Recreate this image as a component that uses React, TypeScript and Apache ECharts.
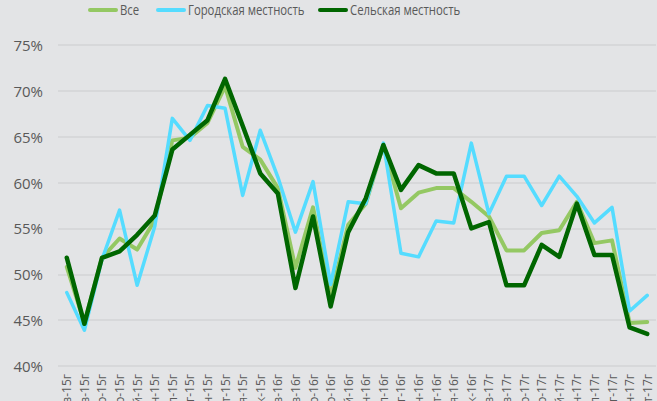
import React, { useEffect, useRef } from "react";
import * as echarts from "echarts";

const months = ["янв", "фев", "мар", "апр", "май", "июн", "июл", "авг", "сен", "окт", "ноя", "дек"];
const categories: string[] = [
  ...months.map((m) => `${m}-15г`),
  ...months.map((m) => `${m}-16г`),
  ...months.slice(0, 10).map((m) => `${m}-17г`),
];

const seriesNames = ["Все", "Городская местность", "Сельская местность"];

const allValues = [
  50.8, 44.7, 51.8, 53.9, 52.7, 55.9, 64.6, 64.9, 66.5, 70.5, 63.9, 62.5,
  59.4, 50.7, 57.3, 47.5, 55.4, 57.7, 64.1, 57.2, 58.9, 59.4, 59.4, 57.9,
  56.3, 52.6, 52.6, 54.5, 54.8, 57.9, 53.4, 53.7, 44.7, 44.8,
];

const urbanValues = [
  48.0, 43.9, 51.6, 57.0, 48.8, 55.2, 67.0, 64.6, 68.4, 68.1, 58.6, 65.7,
  60.6, 54.6, 60.1, 48.9, 57.9, 57.7, 64.3, 52.3, 51.9, 55.8, 55.6, 64.3,
  56.6, 60.7, 60.7, 57.5, 60.7, 58.5, 55.6, 57.3, 46.0, 47.7,
];

const ruralValues = [
  51.8, 44.6, 51.8, 52.5, 54.3, 56.4, 63.6, 65.2, 66.8, 71.3, 66.2, 61.0,
  58.8, 48.5, 56.3, 46.5, 54.6, 58.3, 64.1, 59.2, 61.9, 61.0, 61.0, 55.0,
  55.7, 48.8, 48.8, 53.2, 51.9, 57.7, 52.1, 52.1, 44.2, 43.5,
];

const yMin = 40;
const yMax = 75;
const yInterval = 5;

const colors = ["#94c863", "#55dcff", "#006600"];
const widths = [4, 3.5, 4.5];
const legendIconX = [89, 157, 319];

export default function App() {
  const ref = useRef<HTMLDivElement>(null);
  useEffect(() => {
    document.body.style.margin = "0";
    const chart = echarts.init(ref.current!, null, { renderer: "svg" });
    const data = [allValues, urbanValues, ruralValues];
    const legendGraphics = seriesNames.map((name, i) => ({
      type: "group",
      x: legendIconX[i],
      y: 10,
      children: [
        {
          type: "line",
          shape: { x1: 1, y1: 0, x2: 27, y2: 0 },
          style: { stroke: colors[i], lineWidth: 4, lineCap: "round" },
        },
        {
          type: "text",
          x: 31,
          y: 0,
          scaleX: 0.81,
          style: {
            text: name,
            fill: "#595959",
            font: "14px 'Open Sans', sans-serif",
            textVerticalAlign: "middle",
            verticalAlign: "middle",
          },
        },
      ],
    }));
    chart.setOption({
      animation: false,
      backgroundColor: "#e3e4e6",
      legend: { show: false, data: seriesNames },
      graphic: legendGraphics,
      grid: { left: 58, right: 1, top: 45, bottom: 35, containLabel: false, outerBoundsMode: "none" },
      xAxis: {
        type: "category",
        data: categories,
        boundaryGap: true,
        axisLine: { show: false },
        axisTick: { show: false },
        axisLabel: {
          rotate: 90,
          interval: 0,
          margin: 8,
          color: "#595959",
          fontSize: 12,
          fontFamily: "'Open Sans', sans-serif",
        },
      },
      yAxis: {
        type: "value",
        min: yMin,
        max: yMax,
        interval: yInterval,
        axisLine: { show: false },
        axisTick: { show: false },
        axisLabel: {
          formatter: "{value}%",
          color: "#595959",
          fontSize: 15,
          margin: 15,
          fontFamily: "'Open Sans', sans-serif",
        },
        splitLine: { lineStyle: { color: "#d3d4d6", width: 1.5 } },
      },
      series: seriesNames.map((name, i) => ({
        name,
        type: "line",
        data: data[i],
        symbol: "none",
        color: colors[i],
        lineStyle: { color: colors[i], width: widths[i], join: "round", cap: "round" },
      })),
    });
    return () => chart.dispose();
  }, []);
  return (
    <div
      ref={ref}
      style={{ position: "fixed", left: 0, top: 0, width: 657, height: 401 }}
    />
  );
}
